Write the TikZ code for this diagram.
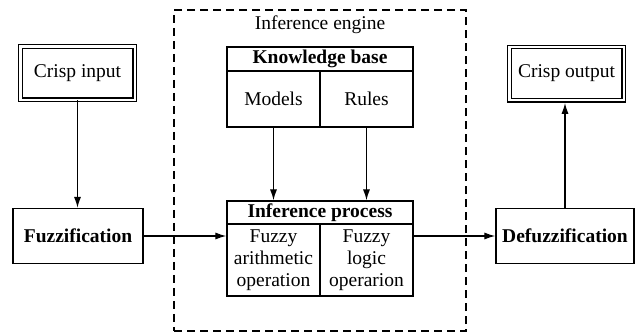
\documentclass[tikz,border=0pt]{standalone}
\usepackage{fontspec}
\setmainfont{Liberation Serif}
\usetikzlibrary{arrows.meta}
\begin{document}
\begin{tikzpicture}[x=0.5pt,y=-0.5pt,
  txt/.style={font=\fontsize{9.75}{11}\selectfont},
  bold/.style={font=\fontsize{9.75}{11}\selectfont\bfseries},
  every node/.style={txt, inner sep=0pt, align=center},
  box/.style={draw, line width=0.7pt, minimum height=27.5pt},
  crisp/.style={draw, double, line width=0.55pt, double distance=1.2pt,
    minimum width=57.2pt, minimum height=26.7pt},
  cell/.style={draw, line width=0.7pt, minimum width=46.5pt},
  head/.style={draw, line width=0.7pt, minimum width=93pt, bold},
  conn/.style={line width=0.65pt, -{Latex[length=5.5pt,width=3.6pt]}},
  engine/.style={draw, dash pattern=on 4pt off 2.5pt, line width=0.6pt}
]
\useasboundingbox (0,0) rectangle (644,332);

% inference engine frame
\node[engine, minimum width=146pt, minimum height=160.5pt] (eng) at (320,170.5) {};
\node[anchor=base] (englbl) at (320,30) {Inference engine};

% knowledge base
\node[head, minimum height=12pt] (kb) at (320,59) {Knowledge base};
\node[cell, minimum height=28pt] (models) at (273.5,99) {Models};
\node[cell, minimum height=28pt] (rules) at (366.5,99) {Rules};

% inference process
\node[head, minimum height=11.5pt] (ip) at (320,212.5) {Inference process};
\node[cell, minimum height=36pt] (arith) at (273.5,260) {Fuzzy\\arithmetic\\operation};
\node[cell, minimum height=36pt] (logic) at (366.5,260) {Fuzzy\\logic\\operarion};

% input / output side
\node[crisp] (cin) at (77.5,73) {Crisp input};
\node[crisp] (cout) at (566.5,73.5) {Crisp output};
\node[box, minimum width=65pt, bold] (fuz) at (78,236) {Fuzzification};
\node[box, minimum width=69pt, bold] (defuz) at (565,236) {Defuzzification};

% connectors
\draw[conn] (cin.south) -- (cin.south |- fuz.north);
\draw[conn] (models.south) -- (models.south |- ip.north);
\draw[conn] (rules.south) -- (rules.south |- ip.north);
\draw[conn] (fuz.east) -- (fuz.east -| arith.west);
\draw[conn] (fuz.east -| logic.east) -- (defuz.west);
\draw[conn, shorten >=1.1pt] (defuz.north) -- (defuz.north |- cout.south);
\end{tikzpicture}
\end{document}
